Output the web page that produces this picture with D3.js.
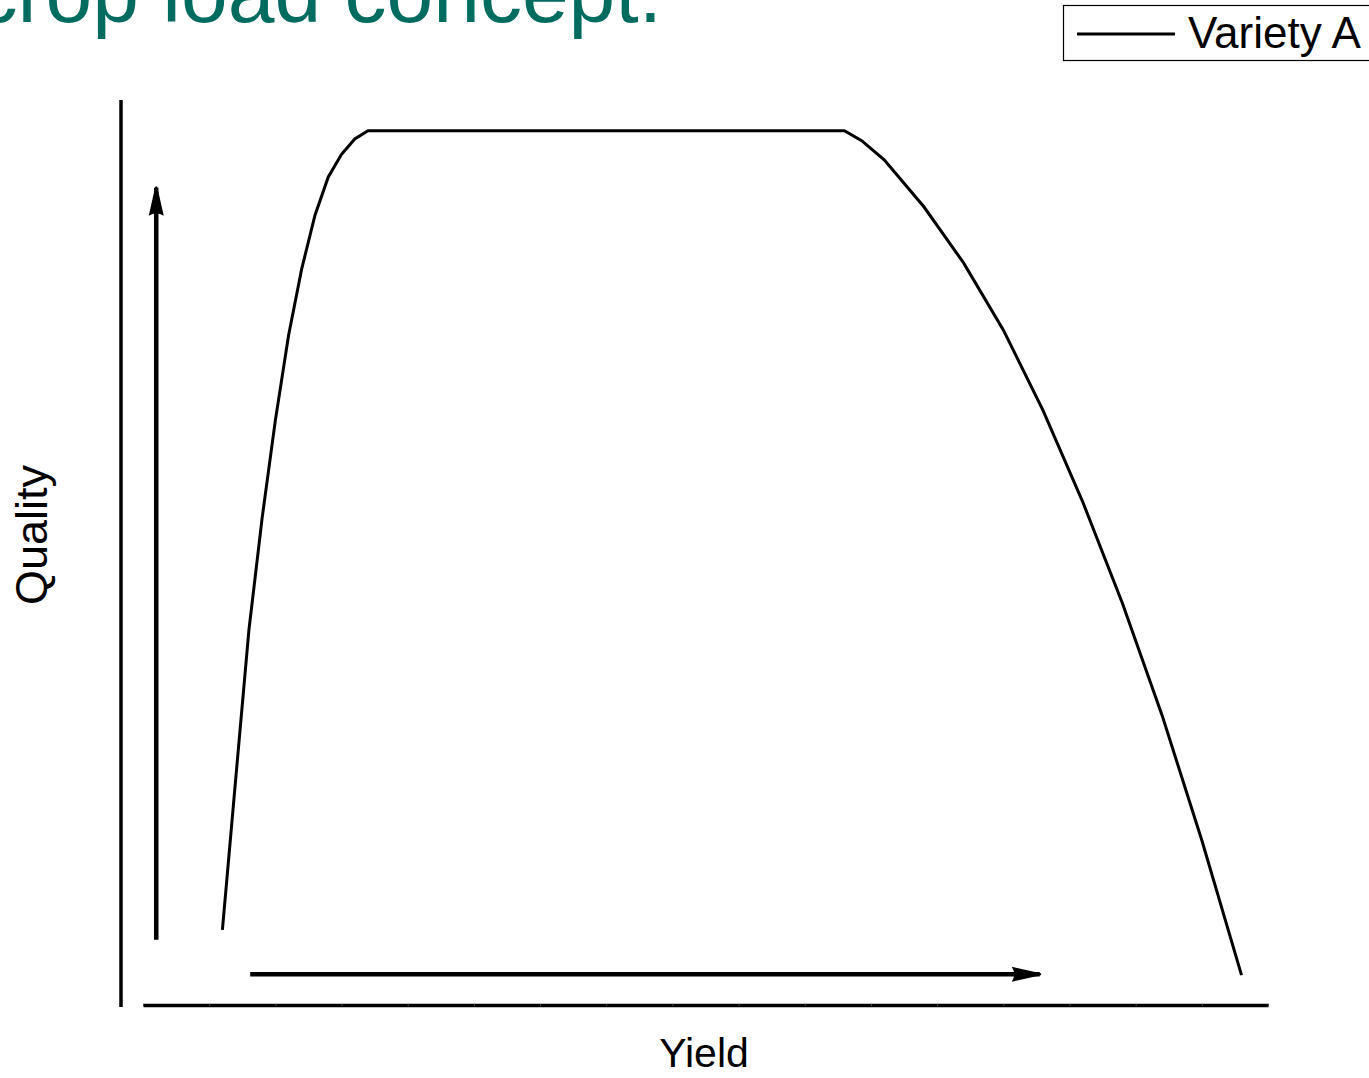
<!DOCTYPE html>
<html>
<head>
<meta charset="utf-8">
<script src="https://cdn.jsdelivr.net/npm/d3@7"></script>
<style>
  body { margin: 0; background: #fff; }
  svg { display: block; font-family: "Liberation Sans", Arial, sans-serif; }
</style>
</head>
<body>
<svg id="chart" width="1369" height="1078"></svg>
<script>
var TITLE = 'crop load concept.';
var SERIES_NAME = 'Variety A';
var X_LABEL = 'Yield';
var Y_LABEL = 'Quality';

// yield / quality of variety A
var YIELD = [1.2, 1.4, 1.6, 1.8, 2.0, 2.2, 2.4, 2.6, 2.8, 3.0, 3.2, 3.4,
             10.6, 10.86, 11.2, 11.8, 12.4, 13.0, 13.6, 14.2, 14.8, 15.4, 16.0, 16.6];
var QUALITY = [0.83, 2.49, 4.14, 5.38, 6.46, 7.40, 8.14, 8.73, 9.15, 9.40, 9.57, 9.66,
               9.66, 9.55, 9.34, 8.82, 8.20, 7.46, 6.57, 5.56, 4.44, 3.20, 1.82, 0.33];

// the two direction arrows, in data units
var QUALITY_ARROW = [[0.2, 0.72], [0.2, 9.03]];
var YIELD_ARROW = [[1.62, 0.34], [13.55, 0.34]];

var X_TICKS = d3.range(0, 18);

var svg = d3.select('#chart');

var x = d3.scaleLinear().domain([0, 17]).range([143, 1268]);
var y = d3.scaleLinear().domain([0, 10]).range([1005, 100]);

// ----- arrowheads -----------------------------------------------------------
svg.append('defs').append('marker')
    .attr('id', 'head')
    .attr('viewBox', '0 0 30 18')
    .attr('preserveAspectRatio', 'none')
    .attr('refX', 28)
    .attr('refY', 9)
    .attr('markerUnits', 'userSpaceOnUse')
    .attr('markerWidth', 30)
    .attr('markerHeight', 18)
    .attr('orient', 'auto')
  .append('path')
    .attr('d', 'M0,1.5 Q5,9 0,16.5 L29,10 Q30,9 29,8 Z')
    .attr('fill', '#000');

// ----- title and legend -----------------------------------------------------
svg.append('text')
    .attr('x', 662)
    .attr('y', 22)
    .attr('text-anchor', 'end')
    .attr('font-size', 84)
    .attr('fill', '#006b5f')
    .text(TITLE);

var legend = svg.append('g');
legend.append('rect')
    .attr('x', 1063.5).attr('y', 5.5)
    .attr('width', 320).attr('height', 55)
    .attr('fill', '#fff').attr('stroke', '#000').attr('stroke-width', 1.2);
legend.append('line')
    .attr('x1', 1077).attr('x2', 1175)
    .attr('y1', 34).attr('y2', 34)
    .attr('stroke', '#000').attr('stroke-width', 3);
legend.append('text')
    .attr('x', 1188).attr('y', 48)
    .attr('font-size', 44)
    .text(SERIES_NAME);

// ----- axes -----------------------------------------------------------------
svg.append('line')
    .attr('x1', 121).attr('x2', 121)
    .attr('y1', y(10)).attr('y2', y(0) + 2)
    .attr('stroke', '#000').attr('stroke-width', 3.5);

var xAxis = svg.append('g')
    .attr('transform', 'translate(0,' + y(0) + ')')
    .call(d3.axisBottom(x).tickValues(X_TICKS).tickSize(0).tickFormat(''));
xAxis.select('.domain')
    .attr('stroke', '#000').attr('stroke-width', 3.5);
xAxis.selectAll('.tick line')
    .attr('y1', -1.2).attr('y2', 1.2)
    .attr('stroke', '#444').attr('stroke-width', 1);

svg.append('text')
    .attr('x', 704).attr('y', 1067)
    .attr('text-anchor', 'middle')
    .attr('font-size', 41)
    .text(X_LABEL);

svg.append('text')
    .attr('transform', 'translate(47,535) rotate(-90)')
    .attr('text-anchor', 'middle')
    .attr('font-size', 45)
    .text(Y_LABEL);

// ----- arrows ---------------------------------------------------------------
var arrowLine = d3.line()
    .x(function(d) { return x(d[0]); })
    .y(function(d) { return y(d[1]); });

[QUALITY_ARROW, YIELD_ARROW].forEach(function(a) {
  svg.append('path')
      .attr('d', arrowLine(a))
      .attr('fill', 'none')
      .attr('stroke', '#000')
      .attr('stroke-width', 4.5)
      .attr('marker-end', 'url(#head)');
});

// ----- curve ----------------------------------------------------------------
var data = YIELD.map(function(v, i) { return {yield: v, quality: QUALITY[i]}; });

svg.append('path')
    .datum(data)
    .attr('d', d3.line()
      .x(function(d) { return x(d.yield); })
      .y(function(d) { return y(d.quality); }))
    .attr('fill', 'none')
    .attr('stroke', '#000')
    .attr('stroke-width', 3);
</script>
</body>
</html>
